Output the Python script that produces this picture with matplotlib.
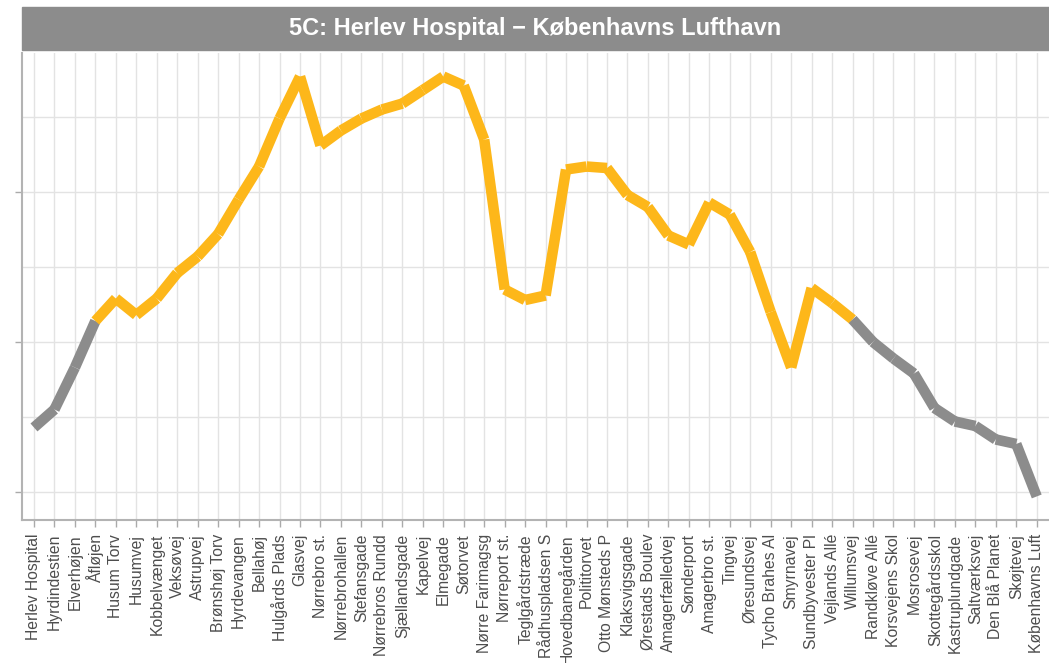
import numpy as np
import matplotlib.pyplot as plt
from matplotlib.collections import LineCollection
from matplotlib.patches import Rectangle

plt.rcParams["font.family"] = ["Liberation Sans", "DejaVu Sans"]

stops = [
    "Herlev Hospital", "Hyrdindestien", "Elverhøjen", "Åfløjen", "Husum Torv",
    "Husumvej", "Kobbelvænget", "Veksøvej", "Astrupvej", "Brønshøj Torv",
    "Hyrdevangen", "Bellahøj", "Hulgårds Plads", "Glasvej", "Nørrebro st.",
    "Nørrebrohallen", "Stefansgade", "Nørrebros Rundd", "Sjællandsgade", "Kapelvej",
    "Elmegade", "Søtorvet", "Nørre Farimagsg", "Nørreport st.", "Teglgårdstræde",
    "Rådhuspladsen S", "Hovedbanegården", "Polititorvet", "Otto Mønsteds P", "Klaksvigsgade",
    "Ørestads Boulev", "Amagerfælledvej", "Sønderport", "Amagerbro st.", "Tingvej",
    "Øresundsvej", "Tycho Brahes Al", "Smyrnavej", "Sundbyvester Pl", "Vejlands Allé",
    "Willumsvej", "Randkløve Allé", "Korsvejens Skol", "Mosrosevej", "Skottegårdsskol",
    "Kastruplundgade", "Saltværksvej", "Den Blå Planet", "Skøjtevej", "Københavns Luft",
]
values = [
    0.43, 0.55, 0.83, 1.14, 1.29, 1.18, 1.29, 1.46, 1.57, 1.72,
    1.95, 2.17, 2.49, 2.77, 2.31, 2.41, 2.49, 2.55, 2.59, 2.68,
    2.77, 2.71, 2.35, 1.35, 1.28, 1.31, 2.15, 2.17, 2.16, 1.98,
    1.90, 1.71, 1.65, 1.93, 1.85, 1.60, 1.20, 0.83, 1.36, 1.26,
    1.15, 1.00, 0.89, 0.79, 0.56, 0.47, 0.44, 0.35, 0.32, -0.03,
]
# stretch of the route highlighted in yellow (stop indices)
hl_start, hl_end = 3, 40

yellow = "#FDB71A"
grey = "#8C8C8C"

fig = plt.figure(figsize=(10.49, 6.63), dpi=100)
ax = fig.add_axes([21.7 / 1049, 1 - 520 / 663, 1 - 21.7 / 1049, (520 - 53) / 663])

x = np.arange(len(stops))
segs = [[(x[i], values[i]), (x[i + 1], values[i + 1])] for i in range(len(stops) - 1)]
cols = [yellow if hl_start <= i < hl_end else grey for i in range(len(segs))]
lc = LineCollection(segs, colors=cols, linewidths=7.6, capstyle="butt", joinstyle="miter")
ax.add_collection(lc)

ax.set_xlim(-0.6, len(stops) - 1 + 0.6)
ax.set_ylim(-0.187, 2.927)
ax.set_xticks(x)
ax.set_xticklabels(stops, rotation=90, fontsize=11.3, color="#4D4D4D")
ax.set_yticks([0, 1, 2])
ax.set_yticks([0.5, 1.5, 2.5], minor=True)
ax.set_yticklabels([])
ax.tick_params(axis="both", which="major", color="#AAAAAA", length=5, width=1)
ax.tick_params(axis="y", which="minor", length=0)
ax.tick_params(axis="x", pad=5)

ax.grid(True, which="both", color="#E3E3E3", linewidth=1)
ax.set_axisbelow(True)
for side in ["top", "right"]:
    ax.spines[side].set_visible(False)
for side in ["left", "bottom"]:
    ax.spines[side].set_color("#B3B3B3")
    ax.spines[side].set_linewidth(1.5)

# facet strip
fig.patches.append(Rectangle((21.7 / 1049, 1 - 50 / 663), 1, 43 / 663,
                             transform=fig.transFigure, color=grey, zorder=0))
fig.text(0.5 + 21.7 / 2098, 1 - 29 / 663, "5C: Herlev Hospital \u2212 Københavns Lufthavn",
         ha="center", va="center", color="white", fontsize=17, fontweight="bold")

fig.savefig("out.png", dpi=100)
